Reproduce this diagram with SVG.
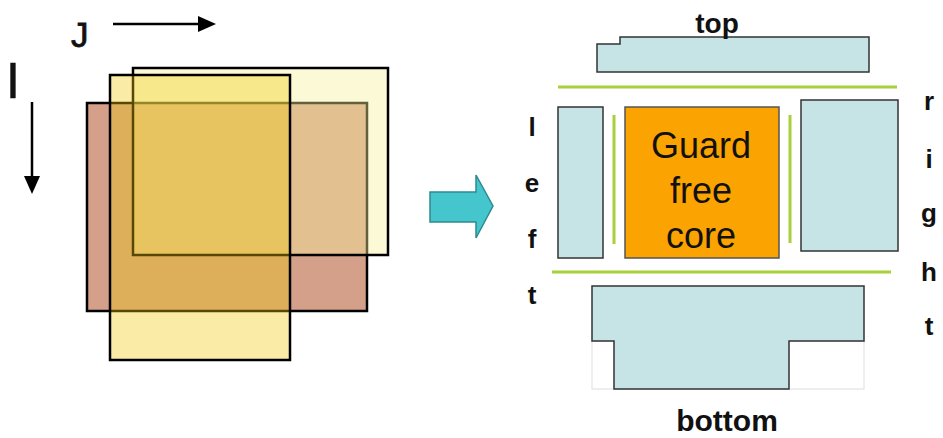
<svg xmlns="http://www.w3.org/2000/svg" width="943" height="438" viewBox="0 0 943 438">
<style>
.lbl{font-family:"Liberation Sans",Arial,sans-serif;font-weight:bold;fill:#111;}
.thin{font-family:"Liberation Sans",Arial,sans-serif;fill:#111;}
.blue{fill:#c6e3e6;stroke:#333;stroke-width:1.5;}
.guard{stroke:#a8d03a;stroke-width:3;fill:none;}
.tile{stroke:#000;stroke-width:2.5;}
.ax{stroke:#000;stroke-width:2.5;fill:none;}
</style>
<rect width="943" height="438" fill="#fff"/>
<g id="axes">
<text class="thin" x="71" y="47" font-size="35" stroke="#111" stroke-width="0.8">J</text>
<path d="M113,24 H200" class="ax"/>
<path d="M198,16 L216,24 L198,32 z" fill="#000"/>
<text class="thin" x="6" y="98" font-size="50" stroke="#111" stroke-width="0.5">I</text>
<path d="M32,102 V178" class="ax"/>
<path d="M24,176 L32,194 L40,176 z" fill="#000"/>
</g>
<g id="tiles">
<rect id="tileB" class="tile" x="87" y="103" width="280" height="208" fill="#d4a08a"/>
<rect id="tileA" class="tile" x="133" y="68" width="255" height="187" fill="rgba(247,240,153,0.4)"/>
<rect id="tileC" class="tile" x="110" y="75" width="180" height="285" fill="rgba(241,201,9,0.36)"/>
</g>
<g id="bigarrow">
<path d="M430,192 H476 V175 L493,206 L476,238 V222 H430 z" fill="#45c6cc" stroke="#2c8a90" stroke-width="1.5"/>
</g>
<g id="top">
<path d="M597,44 H620 V37 H869 V72 H597 z" class="blue"/>
<text class="lbl" x="717" y="33" font-size="28" text-anchor="middle">top</text>
</g>
<g id="guards">
<path d="M558,87 H897" class="guard"/>
<path d="M552,272 H891" class="guard"/>
<path d="M614,115 V244" class="guard"/>
<path d="M790,115 V243" class="guard"/>
</g>
<g id="left">
<rect x="558" y="107" width="45" height="151" class="blue"/>
<text class="lbl" font-size="26" text-anchor="middle"><tspan x="532" y="136">l</tspan><tspan x="532" y="192">e</tspan><tspan x="532" y="248">f</tspan><tspan x="532" y="304">t</tspan></text>
</g>
<g id="core">
<rect x="625" y="107" width="154" height="151" fill="#fba300" stroke="#555" stroke-width="1.5"/>
<text class="thin" font-size="36" text-anchor="middle"><tspan x="701" y="158">Guard</tspan><tspan x="701" y="203">free</tspan><tspan x="701" y="248">core</tspan></text>
</g>
<g id="right">
<rect x="801" y="100" width="97" height="151" class="blue"/>
<text class="lbl" font-size="26" text-anchor="middle"><tspan x="929" y="110">r</tspan><tspan x="929" y="168">i</tspan><tspan x="929" y="222">g</tspan><tspan x="929" y="281">h</tspan><tspan x="929" y="335">t</tspan></text>
</g>
<g id="bottom">
<rect x="592" y="341" width="272" height="48" fill="none" stroke="#ddd" stroke-width="1"/>
<path d="M592,286 H864 V341 H789 V389 H614 V341 H592 z" class="blue"/>
<text class="lbl" x="727" y="431" font-size="30" text-anchor="middle">bottom</text>
</g>
</svg>
